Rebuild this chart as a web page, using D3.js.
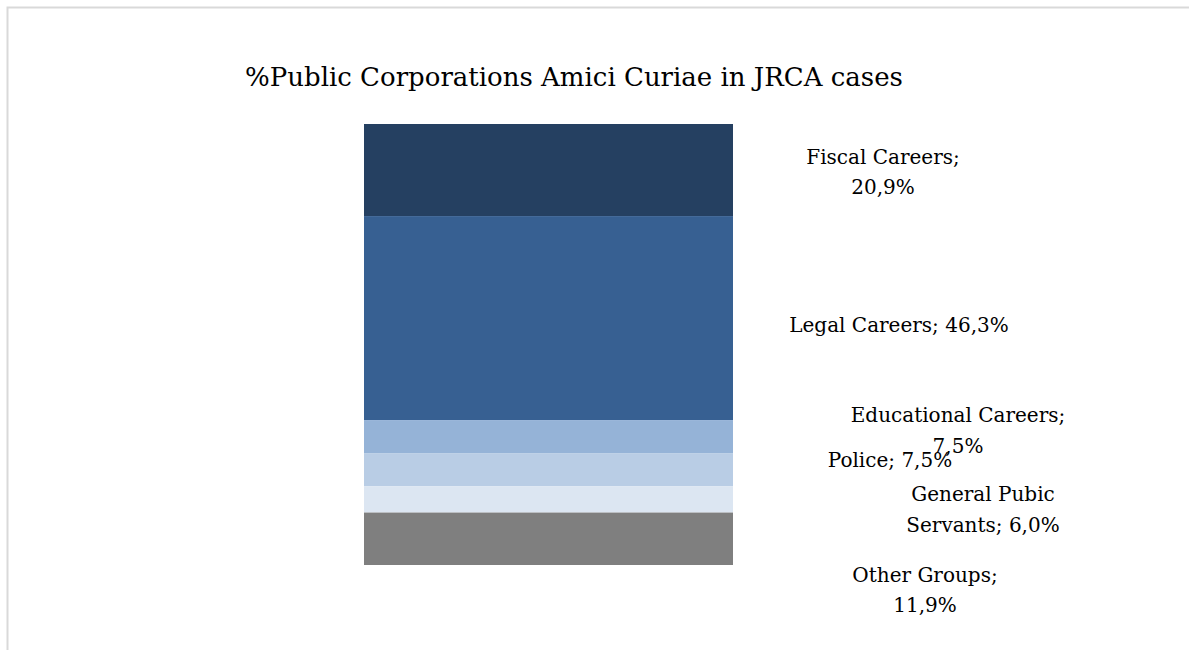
<!DOCTYPE html>
<html>
<head>
<meta charset="utf-8">
<script src="https://cdn.jsdelivr.net/npm/d3@7"></script>
<style>
  html, body { margin: 0; padding: 0; background: #ffffff; }
  svg { display: block; }
  text { font-family: "Palatino Linotype", "Book Antiqua", Palatino, "DejaVu Serif", serif; fill: #000000; }
</style>
</head>
<body>
<svg id="chart" width="1189" height="650"></svg>
<script>
// Share of public-corporation amici curiae, by group (%)
const categories = ["Fiscal Careers", "Legal Careers", "Educational Careers", "Police", "General Pubic Servants", "Other Groups"];
const values = [20.9, 46.3, 7.5, 7.5, 6.0, 11.9];
const colors = ["#254061", "#376092", "#95b3d7", "#b9cde5", "#dce6f2", "#7f7f7f"];
const title = "%Public Corporations Amici Curiae in JRCA cases";

// Label placement (centre x, centre y offset from segment middle, how the text wraps)
const labelLayout = [
  { x: 883, dy: 2,  lines: d => [d.cat + ";", d.txt] },
  { x: 899, dy: 7,  lines: d => [d.cat + "; " + d.txt] },
  { x: 958, dy: -6, lines: d => [d.cat + ";", d.txt] },
  { x: 890, dy: -10, lines: d => [d.cat + "; " + d.txt] },
  { x: 983, dy: 10, lines: d => ["General Pubic", "Servants; " + d.txt] },
  { x: 925, dy: 51, lines: d => [d.cat + ";", d.txt] }
];

const svg = d3.select("#chart");

// chart frame
svg.append("rect")
  .attr("x", 7.5).attr("y", 7.5)
  .attr("width", 1200).attr("height", 700)
  .attr("fill", "none")
  .attr("stroke", "#d9d9d9")
  .attr("stroke-width", 2);

svg.append("text")
  .attr("x", 574).attr("y", 86)
  .attr("text-anchor", "middle")
  .style("font-size", "26px")
  .text(title);

const fmt = v => d3.format(".1f")(v).replace(".", ",") + "%";

let acc = 0;
const stack = values.map((v, i) => {
  const d = { cat: categories[i], v, y0: acc, y1: acc + v, color: colors[i], txt: fmt(v) };
  acc += v;
  return d;
});

const y = d3.scaleLinear().domain([0, acc]).range([124, 565]);
const x = d3.scaleBand().domain(["JRCA"]).range([364, 733]).padding(0);

svg.append("g").selectAll("rect")
  .data(stack)
  .join("rect")
  .attr("x", x("JRCA"))
  .attr("width", x.bandwidth())
  .attr("y", d => y(d.y0))
  .attr("height", d => y(d.y1) - y(d.y0))
  .attr("fill", d => d.color);

const lineH = 30.5;
svg.append("g").selectAll("text")
  .data(stack)
  .join("text")
  .attr("text-anchor", "middle")
  .style("font-size", "20px")
  .each(function (d, i) {
    const lay = labelLayout[i];
    const lines = lay.lines(d);
    const cy = (y(d.y0) + y(d.y1)) / 2 + lay.dy;
    const firstBase = cy - (lines.length - 1) * lineH / 2 + 7;
    const t = d3.select(this);
    lines.forEach((ln, k) => {
      t.append("tspan")
        .attr("x", lay.x)
        .attr("y", firstBase + k * lineH)
        .text(ln);
    });
  });
</script>
</body>
</html>
